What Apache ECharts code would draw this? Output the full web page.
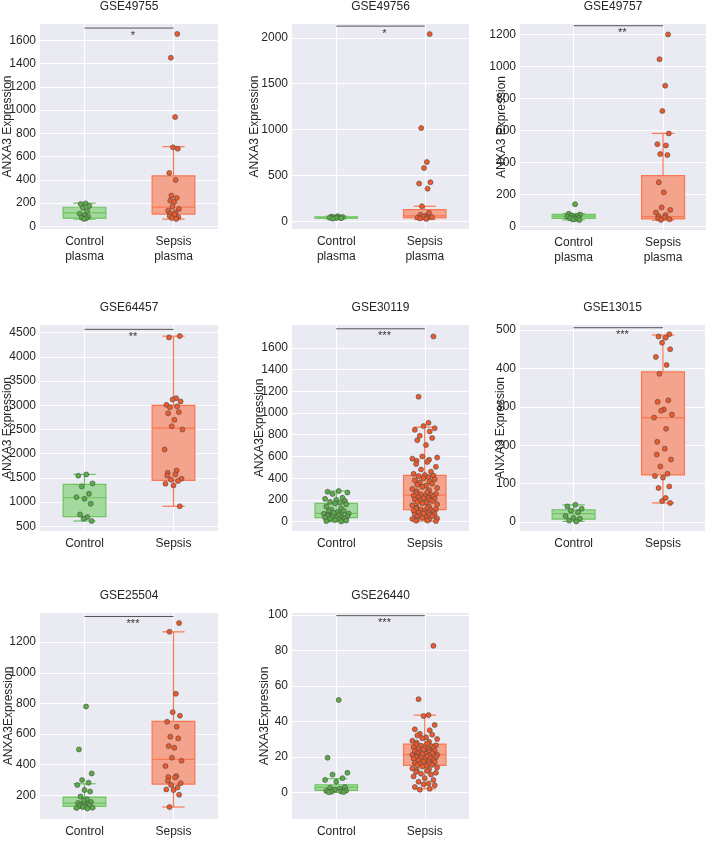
<!DOCTYPE html>
<html>
<head>
<meta charset="utf-8">
<script src="https://cdn.jsdelivr.net/npm/echarts@6/dist/echarts.min.js"></script>
<style>
html, body { margin: 0; padding: 0; background: #fff; }
#main { width: 709px; height: 852px; }
</style>
</head>
<body>
<div id="main"></div>
<script>
// 数据：每个数据集的点值
var titles = ['GSE49755', 'GSE49756', 'GSE49757', 'GSE64457', 'GSE30119', 'GSE13015', 'GSE25504', 'GSE26440'];
var yNames = ['ANXA3 Expression', 'ANXA3 Expression', 'ANXA3 Expression', 'ANXA3 Expression',
              'ANXA3Expression', 'ANXA3 Expression', 'ANXA3Expression', 'ANXA3Expression'];
var groupsPlasma = ['Control\nplasma', 'Sepsis\nplasma'];
var groupsPlain = ['Control', 'Sepsis'];
var stars = ['*', '*', '**', '**', '***', '***', '***', '***'];

var ctrl49755 = [198, 192, 176, 160, 132, 110, 95, 84, 76, 70, 65];
var seps49755 = [1655, 1450, 940, 680, 668, 460, 400, 265, 245, 222, 210, 170, 150, 135, 120, 110, 100, 88, 80, 72, 65];
var ctrl49756 = [55, 50, 46, 42, 40, 38, 35, 32, 28];
var seps49756 = [2040, 1015, 645, 580, 424, 410, 355, 163, 91, 70, 58, 50, 45, 40, 35, 30, 25];
var ctrl49757 = [140, 80, 75, 70, 66, 62, 58, 55, 52, 48, 45, 42];
var seps49757 = [1200, 1045, 880, 722, 582, 515, 507, 453, 447, 277, 214, 120, 104, 89, 73, 66, 58, 52, 46, 42];
var ctrl64457 = [1572, 1545, 1386, 1324, 1172, 1103, 1069, 966, 745, 690, 655, 610];
var seps64457 = [4431, 4403, 3148, 3120, 3080, 3010, 2980, 2960, 2860, 2835, 2700, 2569, 2500, 2086,
                 1655, 1607, 1572, 1552, 1483, 1462, 1434, 1380, 1345, 914];
var ctrl30119 = [282, 275, 268, 255, 220, 210, 200, 190, 182, 175, 168, 160, 140, 120, 110, 100, 95, 88, 80,
                 75, 72, 68, 62, 58, 52, 48, 45, 40, 38, 35, 30, 25, 20, 15, 10, 5, 2];
var seps30119 = [1705, 1150, 910, 880, 860, 845, 830, 790, 770, 750, 705,
                 600, 590, 580, 570, 560, 550, 530, 505, 480, 460,
                 440, 430, 425, 420, 410, 400, 390, 380, 370, 360, 350, 340, 330, 320, 310,
                 300, 290, 280, 270, 260, 255, 250, 245, 240, 235, 230, 225, 220, 215, 210, 205, 200,
                 195, 190, 180, 175, 170, 160, 150, 140, 130, 125, 120, 115, 110, 105, 100,
                 95, 90, 85, 80, 75, 70, 65, 60, 55, 50, 45, 40, 35, 30, 25, 20, 15, 10, 8, 5];
var ctrl13015 = [45, 41, 35, 30, 26, 16, 11, 9, 4, 2];
var seps13015 = [489, 483, 480, 467, 450, 430, 409, 386, 317, 313, 293, 290, 280, 272, 243, 209, 191, 176,
                 163, 145, 126, 120, 116, 93, 89, 63, 55, 50];
var ctrl25504 = [780, 500, 343, 300, 283, 268, 235, 225, 193, 175, 167, 157, 150, 143, 140, 137, 132, 128, 124, 120, 118, 115];
var seps25504 = [1324, 1268, 863, 743, 720, 680, 648, 583, 572, 522, 511, 446, 426, 391, 326, 320, 317, 296,
                 280, 268, 252, 239, 235, 204, 124];
var ctrl26440 = [52, 19.5, 11, 10, 8, 7, 6, 3, 2.5, 2, 1.5, 1, 0.8, 0.5, 0.3, 0.2, 0.1];
var seps26440 = [82.5, 52.5, 43.5, 43, 38, 35.5, 35, 33, 32.5, 32, 31, 30.5, 30, 29, 28.5, 28, 27.5, 27, 26.5,
                 26.2, 26, 25.5, 25.2, 25, 24.5, 24.2, 24, 23.5, 23.2, 23, 22.5, 22.2, 22, 21.8, 21.5, 21.2, 21,
                 20.8, 20.5, 20.2, 20, 19.8, 19.5, 19.2, 19, 18.5, 18.2, 18, 17.5, 17.2, 17, 16.5, 16.2, 16,
                 15.5, 15.2, 15, 14.5, 14, 13.5, 13, 12.5, 12, 11.5, 11, 10.5, 10, 9, 8, 7, 6, 5, 4.5, 4, 3, 2, 1.5];

// 箱线统计 [下须, Q1, 中位数, Q3, 上须]，control / sepsis
var box49755 = [[62, 71, 117, 165, 200], [63, 106, 166, 434, 686]];
var box49756 = [[25, 34, 40, 47, 55], [20, 37, 58, 127, 163]];
var box49757 = [[42, 52, 66, 77, 82], [40, 48, 62, 318, 582]];
var box64457 = [[610, 700, 1090, 1365, 1572], [914, 1448, 2528, 3000, 4430]];
var box30119 = [[0, 37, 77, 169, 282], [6, 110, 245, 426, 870]];
var box13015 = [[2, 8, 22, 32, 45], [50, 123, 272, 391, 487]];
var box25504 = [[115, 128, 150, 189, 276], [124, 274, 435, 683, 1267]];
var box26440 = [[0, 1.1, 2.8, 4.3, 7.7], [2, 15.2, 21.2, 27.2, 43.5]];

// 刻度
var ticks49755 = [0, 200, 400, 600, 800, 1000, 1200, 1400, 1600];
var ticks49756 = [0, 500, 1000, 1500, 2000];
var ticks49757 = [0, 200, 400, 600, 800, 1000, 1200];
var ticks64457 = [500, 1000, 1500, 2000, 2500, 3000, 3500, 4000, 4500];
var ticks30119 = [0, 200, 400, 600, 800, 1000, 1200, 1400, 1600];
var ticks13015 = [0, 100, 200, 300, 400, 500];
var ticks25504 = [200, 400, 600, 800, 1000, 1200];
var ticks26440 = [0, 20, 40, 60, 80, 100];

// y 轴范围 和 显著性横线高度
var yRanges = [[-22, 1740], [-85, 2150], [-21, 1265], [403, 4660], [-86, 1810], [-23, 513], [46, 1390], [-15, 101]];
var sigLevels = [1705, 2127, 1254, 4570, 1775, 506, 1367, 99.5];

var ctrlSets = [ctrl49755, ctrl49756, ctrl49757, ctrl64457, ctrl30119, ctrl13015, ctrl25504, ctrl26440];
var sepsSets = [seps49755, seps49756, seps49757, seps64457, seps30119, seps13015, seps25504, seps26440];
var boxSets = [box49755, box49756, box49757, box64457, box30119, box13015, box25504, box26440];
var tickSets = [ticks49755, ticks49756, ticks49757, ticks64457, ticks30119, ticks13015, ticks25504, ticks26440];

// 布局
var FONT = 'Liberation Sans, Arial, sans-serif';
var TXT = '#262626';
var GRIDS = [
    { left: 40, top: 24, width: 178, height: 205 },
    { left: 292, top: 24, width: 177, height: 205 },
    { left: 520, top: 24, width: 186, height: 206 },
    { left: 40, top: 325, width: 178, height: 206 },
    { left: 292, top: 325, width: 177, height: 206 },
    { left: 520, top: 325, width: 185, height: 206 },
    { left: 40, top: 613, width: 178, height: 206 },
    { left: 292, top: 613, width: 177, height: 206 }
];
var XLIM = [[-0.5, 1.5], [-0.5, 1.5], [-0.6, 1.48], [-0.5, 1.5], [-0.5, 1.5], [-0.6, 1.47], [-0.5, 1.5], [-0.5, 1.5]];
var TITLE_TOP = [1, 1, 1, 302, 302, 302, 590, 590];
var NAME_GAP = [26, 31, 12, 26, 26, 13, 25, 21];
var JIT_AMP = [0.06, 0.08, 0.08, 0.1, 0.14, 0.1, 0.09, 0.14];
var JITTER = [0.2, -0.7, 0.9, -0.3, 0.5, -0.9, 0.0, 0.7, -0.5, 0.3, -0.1, 0.8, -0.8, 0.4, -0.4, 0.6, -0.6, 0.1, -0.2, 1.0, -1.0, 0.35, -0.65];

var COLORS = [
    { fill: '#A3D99C', edge: '#6CC55E', point: '#58AD45' },
    { fill: '#F4A38C', edge: '#FB7752', point: '#EE5A2C' }
];

function renderBox(params, api) {
    var g = api.value(0);
    var c = COLORS[g];
    var pt = function (k) { return api.coord([g, api.value(k)]); };
    var lo = pt(1), q1 = pt(2), md = pt(3), q3 = pt(4), hi = pt(5);
    var bw = api.size([0.48, 0])[0];
    var cw = api.size([0.25, 0])[0];
    var x = lo[0];
    var ls = { stroke: c.edge, lineWidth: 1.2 };
    return {
        type: 'group',
        children: [
            { type: 'line', shape: { x1: x, y1: q3[1], x2: x, y2: hi[1] }, style: ls },
            { type: 'line', shape: { x1: x, y1: q1[1], x2: x, y2: lo[1] }, style: ls },
            { type: 'line', shape: { x1: x - cw / 2, y1: hi[1], x2: x + cw / 2, y2: hi[1] }, style: ls },
            { type: 'line', shape: { x1: x - cw / 2, y1: lo[1], x2: x + cw / 2, y2: lo[1] }, style: ls },
            { type: 'rect', shape: { x: x - bw / 2, y: q3[1], width: bw, height: q1[1] - q3[1] },
              style: { fill: c.fill, stroke: c.edge, lineWidth: 1.2 } },
            { type: 'line', shape: { x1: x - bw / 2, y1: md[1], x2: x + bw / 2, y2: md[1] }, style: ls }
        ]
    };
}

function makeSig(star) {
    return function (params, api) {
        var a = api.coord([api.value(0), api.value(2)]);
        var b = api.coord([api.value(1), api.value(2)]);
        return {
            type: 'group',
            children: [
                { type: 'line', shape: { x1: a[0], y1: a[1], x2: b[0], y2: b[1] },
                  style: { stroke: '#555', lineWidth: 1 } },
                { type: 'text', x: (a[0] + b[0]) / 2 + 4, y: a[1] + 2,
                  style: { text: star, fill: '#333', font: '11px ' + FONT, align: 'center', verticalAlign: 'top' } }
            ]
        };
    };
}

var option = {
    animation: false,
    backgroundColor: '#fff',
    textStyle: { fontFamily: FONT },
    title: [], grid: [], xAxis: [], yAxis: [], series: []
};

for (var i = 0; i < 8; i++) {
    var g = GRIDS[i];
    var labels = i < 3 ? groupsPlasma : groupsPlain;
    option.title.push({
        text: titles[i], left: g.left + g.width / 2, top: TITLE_TOP[i], textAlign: 'center', padding: 0,
        textStyle: { fontSize: 12, fontWeight: 'normal', color: TXT, fontFamily: FONT }
    });
    option.grid.push({
        left: g.left, top: g.top, width: g.width, height: g.height,
        show: true, backgroundColor: '#EAEAF2', borderWidth: 0
    });
    option.xAxis.push({
        type: 'value', gridIndex: i, min: XLIM[i][0], max: XLIM[i][1],
        axisLine: { show: false },
        axisTick: { show: false, customValues: [0, 1] },
        splitLine: { show: true, lineStyle: { color: '#fff', width: 1 } },
        axisLabel: {
            customValues: [0, 1], color: TXT, fontSize: 12, lineHeight: 15, margin: 5, fontFamily: FONT,
            formatter: (function (lb) { return function (v) { return v < 0.5 ? lb[0] : lb[1]; }; })(labels)
        }
    });
    option.yAxis.push({
        type: 'value', gridIndex: i, min: yRanges[i][0], max: yRanges[i][1],
        name: yNames[i], nameLocation: 'middle', nameGap: NAME_GAP[i], nameMoveOverlap: false,
        nameTextStyle: { fontSize: 12, color: TXT, fontFamily: FONT },
        axisLine: { show: false },
        axisTick: { show: false, customValues: tickSets[i] },
        splitLine: { show: true, lineStyle: { color: '#fff', width: 1 } },
        axisLabel: {
            customValues: tickSets[i], color: TXT, fontSize: 12, margin: 4, fontFamily: FONT,
            formatter: function (v) { return String(v); }
        }
    });

    var bx = boxSets[i];
    option.series.push({
        type: 'custom', xAxisIndex: i, yAxisIndex: i, z: 2,
        renderItem: renderBox,
        data: [[0].concat(bx[0]), [1].concat(bx[1])]
    });

    [ctrlSets[i], sepsSets[i]].forEach(function (vals, grp) {
        var amp = JIT_AMP[i];
        option.series.push({
            type: 'scatter', xAxisIndex: i, yAxisIndex: i, z: 3,
            symbolSize: 5,
            itemStyle: { color: COLORS[grp].point, borderColor: '#4a4a4a', borderWidth: 0.6, opacity: 1 },
            data: vals.map(function (v, k) {
                return [grp + JITTER[(k + grp * 7) % JITTER.length] * amp, v];
            })
        });
    });

    option.series.push({
        type: 'custom', xAxisIndex: i, yAxisIndex: i, z: 4,
        renderItem: makeSig(stars[i]),
        data: [[0, 1, sigLevels[i]]]
    });
}

var myChart = echarts.init(document.getElementById('main'));
myChart.setOption(option);
</script>
</body>
</html>
